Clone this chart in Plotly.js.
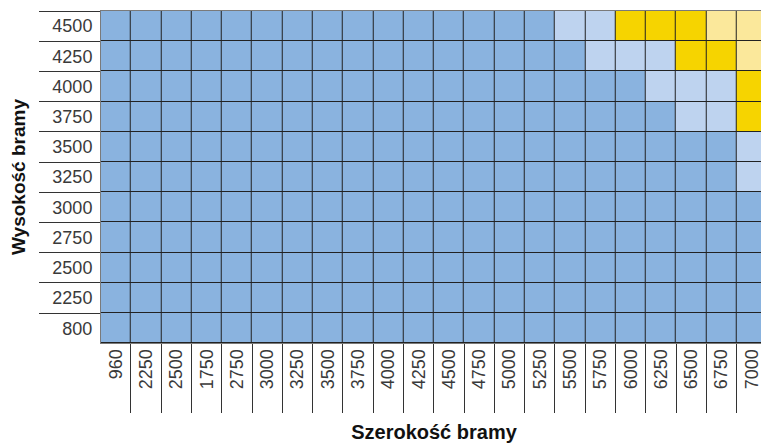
<!DOCTYPE html>
<html>
<head>
<meta charset="utf-8">
<script src="https://cdn.plot.ly/plotly-3.0.1.min.js"></script>
<style>
html, body { margin: 0; padding: 0; overflow: hidden; background: #fff; }
#chart { width: 770px; height: 443px; }
</style>
</head>
<body>
<div id="chart"></div>
<script>
// Gate widths (x categories, in the order printed on the chart)
const widths = ["960","2250","2500","1750","2750","3000","3250","3500","3750","4000","4250","4500","4750","5000","5250","5500","5750","6000","6250","6500","6750","7000"];
// Gate heights (y categories, bottom to top)
const heights = ["800","2250","2500","2750","3000","3250","3500","3750","4000","4250","4500"];
// Zone code per cell: 0 = blue, 1 = light blue, 2 = gold, 3 = pale yellow
const row800  = [0,0,0,0,0,0,0,0,0,0,0,0,0,0,0,0,0,0,0,0,0,0];
const row2250 = [0,0,0,0,0,0,0,0,0,0,0,0,0,0,0,0,0,0,0,0,0,0];
const row2500 = [0,0,0,0,0,0,0,0,0,0,0,0,0,0,0,0,0,0,0,0,0,0];
const row2750 = [0,0,0,0,0,0,0,0,0,0,0,0,0,0,0,0,0,0,0,0,0,0];
const row3000 = [0,0,0,0,0,0,0,0,0,0,0,0,0,0,0,0,0,0,0,0,0,0];
const row3250 = [0,0,0,0,0,0,0,0,0,0,0,0,0,0,0,0,0,0,0,0,0,1];
const row3500 = [0,0,0,0,0,0,0,0,0,0,0,0,0,0,0,0,0,0,0,0,0,1];
const row3750 = [0,0,0,0,0,0,0,0,0,0,0,0,0,0,0,0,0,0,0,1,1,2];
const row4000 = [0,0,0,0,0,0,0,0,0,0,0,0,0,0,0,0,0,0,1,1,1,2];
const row4250 = [0,0,0,0,0,0,0,0,0,0,0,0,0,0,0,0,1,1,1,2,2,3];
const row4500 = [0,0,0,0,0,0,0,0,0,0,0,0,0,0,0,1,1,2,2,2,3,3];
const zoneColors = ["#8AB3DF", "#BED3EF", "#F6D400", "#FBE89B"];

const z = [row800,row2250,row2500,row2750,row3000,row3250,row3500,row3750,row4000,row4250,row4500];
const n = zoneColors.length;
const colorscale = [];
zoneColors.forEach((c, i) => { colorscale.push([i / n, c]); colorscale.push([(i + 1) / n, c]); });

const trace = {
  type: "heatmap",
  x: widths,
  y: heights,
  z: z,
  zmin: 0,
  zmax: n,
  colorscale: colorscale,
  showscale: false,
  xgap: 1,
  ygap: 1,
  hoverinfo: "x+y"
};

const tickFont = { family: "Liberation Sans, Arial, sans-serif", size: 18, color: "#3a3a3a" };

const layout = {
  width: 770,
  height: 443,
  margin: { l: 101, r: 3, t: 11, b: 100 },
  paper_bgcolor: "#ffffff",
  plot_bgcolor: "#222222",
  xaxis: {
    type: "category",
    range: [-0.49, widths.length - 0.5],
    tickson: "boundaries",
    ticks: "outside",
    ticklen: 69,
    tickwidth: 1,
    tickcolor: "#333",
    tickangle: -90,
    ticklabelstandoff: -2,
    tickfont: tickFont,
    showgrid: false,
    zeroline: false,
    showline: true,
    linecolor: "#7a7a7a",
    linewidth: 1,
    mirror: true,
    fixedrange: true,
    title: { text: "Szerokość bramy", font: { family: "Liberation Sans, Arial, sans-serif", size: 20, color: "#111", weight: "bold" }, standoff: 39 }
  },
  yaxis: {
    type: "category",
    range: [-0.49, heights.length - 0.5],
    tickson: "boundaries",
    ticks: "outside",
    ticklen: 61,
    tickwidth: 1,
    tickcolor: "#333",
    ticklabelstandoff: 4,
    tickfont: tickFont,
    showgrid: false,
    zeroline: false,
    showline: true,
    linecolor: "#7a7a7a",
    linewidth: 1,
    mirror: true,
    fixedrange: true,
    title: { text: "Wysokość bramy", font: { family: "Liberation Sans, Arial, sans-serif", size: 19, color: "#111", weight: "bold" }, standoff: 21 }
  },
  showlegend: false
};

Plotly.newPlot("chart", [trace], layout, { displayModeBar: false, staticPlot: true });
</script>
</body>
</html>
